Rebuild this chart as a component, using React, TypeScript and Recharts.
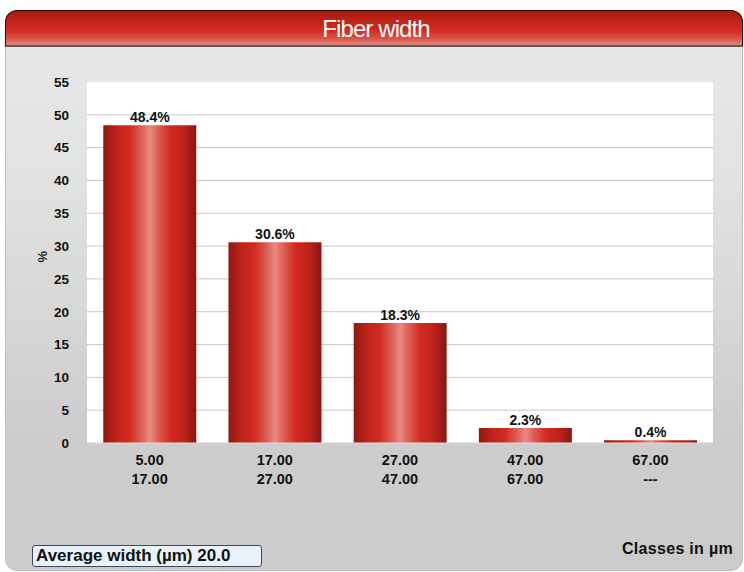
import React from 'react';
import { BarChart, Bar, XAxis, YAxis, CartesianGrid, LabelList } from 'recharts';

const classLow = ['5.00', '17.00', '27.00', '47.00', '67.00'];
const classHigh = ['17.00', '27.00', '47.00', '67.00', '---'];
const percents = [48.4, 30.6, 18.3, 2.3, 0.4];
const yTicks = [0, 5, 10, 15, 20, 25, 30, 35, 40, 45, 50, 55];
const title = 'Fiber width';
const averageLabel = 'Average width (µm) 20.0';
const xAxisTitle = 'Classes in µm';

const data = classLow.map((lo, i) => ({ key: String(i), lo, hi: classHigh[i], value: percents[i] }));

const FONT = '"Liberation Sans", Arial, sans-serif';

const XTick = (props: any) => {
  const { x, y, payload } = props;
  const d = data[Number(payload.value)];
  return (
    <g>
      <text x={x} y={y + 14} textAnchor="middle" fontFamily={FONT} fontWeight="bold" fontSize={14.5} fill="#111">{d.lo}</text>
      <text x={x} y={y + 33} textAnchor="middle" fontFamily={FONT} fontWeight="bold" fontSize={14.5} fill="#111">{d.hi}</text>
    </g>
  );
};

export default function App() {
  return (
    <div style={{ position: 'absolute', left: 0, top: 0, width: 744, height: 572, background: '#fff', overflow: 'hidden' }}>
      {/* panel */}
      <div style={{
        position: 'absolute', left: 5, top: 10, width: 738, height: 561,
        borderRadius: 12, overflow: 'hidden',
        background: 'linear-gradient(to bottom, #e8e8e8 0%, #e2e2e2 30%, #cdcdcd 75%, #cbcbcb 100%)',
        border: '1px solid #bdbdbd', boxSizing: 'border-box',
      }} />
      {/* title bar */}
      <div style={{
        position: 'absolute', left: 5, top: 10, width: 738, height: 37,
        borderRadius: '12px 12px 0 0', boxSizing: 'border-box',
        border: '1px solid #2a0a08', borderBottom: '2px solid #5a5a5a',
        background: 'linear-gradient(to bottom, #a41a12 0%, #c4241a 30%, #d02a1f 55%, #d6483e 75%, #e0837b 100%)',
        color: '#fff', fontFamily: FONT,
        fontSize: 24, textAlign: 'center', lineHeight: '35px', letterSpacing: -0.9,
        overflow: 'hidden', whiteSpace: 'nowrap', paddingLeft: 4,
      }}>{title}</div>
      <div style={{ position: 'absolute', left: 0, top: 0 }}>
        <BarChart
          width={744}
          height={572}
          data={data}
          margin={{ top: 82, right: 31, left: 0, bottom: 89 }}
          barCategoryGap="13%"
        >
          <defs>
            <linearGradient id="barGrad" x1="0" y1="0" x2="1" y2="0">
              <stop offset="0%" stopColor="#8e1810" />
              <stop offset="12%" stopColor="#b8221a" />
              <stop offset="28%" stopColor="#d42a20" />
              <stop offset="40%" stopColor="#dc5a50" />
              <stop offset="50%" stopColor="#e88a82" />
              <stop offset="60%" stopColor="#dc5a50" />
              <stop offset="72%" stopColor="#d42a20" />
              <stop offset="88%" stopColor="#b8221a" />
              <stop offset="100%" stopColor="#8a160e" />
            </linearGradient>
          </defs>
          <CartesianGrid vertical={false} horizontal={true} fill="#ffffff" stroke="#c8c8c8" strokeWidth={1} horizontalValues={yTicks.filter(t => t !== 55)} />
          <XAxis
            dataKey="key"
            height={40}
            tick={<XTick />}
            tickLine={false}
            axisLine={{ stroke: '#e0e0e0' }}
            interval={0}
          />
          <YAxis
            width={87}
            domain={[0, 55]}
            ticks={yTicks}
            interval={0}
            tickLine={false}
            axisLine={false}
            tickMargin={12}
            tick={{ fontFamily: FONT, fontWeight: 'bold', fontSize: 13.5, fill: '#111' }}
            label={{ value: '%', angle: -90, position: 'insideLeft', offset: 42, style: { fontFamily: FONT, fontWeight: 'bold', fontSize: 13, fill: '#222' } }}
          />
          <Bar dataKey="value" fill="url(#barGrad)" isAnimationActive={false}>
            <LabelList dataKey="value" position="top" offset={3} formatter={(v: any) => `${v}%`} style={{ fontFamily: FONT, fontWeight: 'bold', fontSize: 14, fill: '#111' }} />
          </Bar>
        </BarChart>
      </div>
      {/* average box */}
      <div style={{
        position: 'absolute', left: 32, top: 545, width: 230, height: 22, boxSizing: 'border-box',
        border: '1px solid #3a4a60', borderRadius: 3, background: '#e9f1fb',
        fontFamily: FONT, fontWeight: 'bold',
        fontSize: 17, lineHeight: '20px', paddingLeft: 3, color: '#111', whiteSpace: 'nowrap', letterSpacing: 0,
      }}>{averageLabel}</div>
      <div style={{
        position: 'absolute', left: 622, top: 539, fontFamily: FONT, fontWeight: 'bold',
        fontSize: 16, lineHeight: '20px', color: '#111', whiteSpace: 'nowrap', letterSpacing: 0.3,
      }}>{xAxisTitle}</div>
    </div>
  );
}
